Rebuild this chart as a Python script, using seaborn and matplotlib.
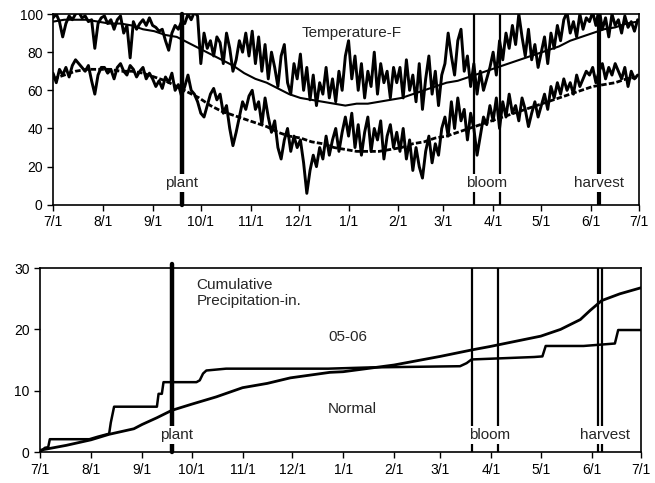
import matplotlib
matplotlib.use("Agg")
import matplotlib.dates as mdates
import matplotlib.pyplot as plt
import pandas as pd
import seaborn as sns

season_start = pd.Timestamp("2005-07-01")
season_end = pd.Timestamp("2006-07-01")

# daily temps 05-06, read every 2 days off the chart (day 0 = 7/1)
tmax = [
    98, 100, 96, 88, 95, 99, 97, 100, 101, 98, 99, 96, 97, 82, 95, 98,  # jul
    99, 95, 97, 92, 97, 99, 90, 94, 77, 96, 92, 95, 97, 94, 98,  # aug
    94, 93, 91, 92, 86, 81, 90, 94, 92, 96, 95, 100, 97, 101, 99,  # sep
    74, 90, 82, 86, 78, 88, 85, 74, 90, 82, 70, 76, 86, 80, 90, 78,  # oct
    91, 74, 88, 70, 84, 66, 80, 72, 62, 78, 84, 64, 58, 74, 66,  # nov
    79, 60, 72, 55, 68, 52, 64, 58, 72, 56, 66, 54, 70, 60, 78,  # dec
    86, 66, 78, 60, 74, 56, 70, 62, 80, 58, 74, 64, 70, 56, 72, 64,  # jan
    72, 56, 76, 60, 68, 54, 74, 50, 66, 78, 58, 70, 52, 68,  # feb
    74, 90, 78, 68, 86, 92, 70, 78, 62, 74, 58, 70, 60, 66, 72,  # mar
    80, 68, 86, 76, 90, 82, 94, 84, 100, 88, 78, 92, 76, 84, 72,  # apr
    80, 88, 74, 90, 82, 94, 86, 97, 101, 90, 96, 88, 100, 92, 98,  # may
    96, 101, 94, 103, 92, 98, 88, 100, 94, 97, 90, 99, 93, 96, 91, 97,  # jun
]
tmin = [
    69, 64, 71, 68, 72, 67, 73, 76, 74, 72, 70, 73, 65, 58, 68, 72,
    72, 69, 71, 66, 72, 74, 70, 68, 73, 71, 67, 70, 72, 66, 69,
    66, 62, 65, 61, 67, 64, 69, 60, 63, 57, 62, 68, 60, 58, 54,
    48, 46, 52, 58, 61, 55, 58, 48, 52, 40, 31, 38, 46, 54, 50, 57,
    60, 50, 54, 42, 56, 46, 38, 44, 30, 24, 34, 40, 28, 36, 30,
    34, 22, 6, 18, 26, 20, 30, 24, 36, 26, 34, 40, 28, 38, 46,
    36, 48, 30, 42, 26, 38, 46, 28, 40, 34, 44, 24, 36, 42, 30, 38,
    28, 40, 24, 34, 18, 30, 20, 14, 28, 36, 22, 32, 26, 40,
    46, 36, 54, 40, 56, 44, 50, 34, 48, 40, 26, 36, 46, 42, 52,
    44, 56, 40, 54, 46, 58, 48, 52, 44, 56, 50, 41, 48, 54, 46,
    52, 58, 50, 62, 56, 64, 58, 66, 60, 64, 58, 68, 62, 66, 70,
    68, 72, 64, 70, 74, 66, 72, 68, 74, 70, 66, 72, 62, 70, 66, 68,
]

# normals, weekly
norm_max = [
    96, 97, 97, 97, 96, 95, 95, 94, 92, 91, 89, 88, 85, 82, 79, 76, 73, 69,
    66, 64, 61, 58, 56, 55, 54, 53, 52, 53, 53, 54, 55, 56, 58, 60, 62, 64,
    65, 67, 69, 71, 73, 75, 77, 79, 81, 83, 86, 88, 90, 92, 93, 95, 96,
]
norm_min = [
    66, 68, 70, 71, 71, 71, 70, 70, 69, 67, 65, 62, 59, 56, 52, 49, 47, 45,
    43, 41, 38, 36, 35, 33, 32, 30, 29, 28, 28, 28, 29, 30, 32, 33, 35, 36,
    38, 40, 42, 44, 46, 48, 50, 52, 54, 56, 58, 60, 62, 63, 64, 66, 67,
]

# cumulative precipitation (in.)
precip_days = [0, 3, 5, 6, 30, 35, 42, 43, 45, 71, 72, 74, 75, 95, 97, 99,
               101, 113, 175, 200, 255, 259, 262, 300, 305, 307, 330, 349,
               351, 365]
precip_0506 = [0, 0.7, 0.8, 2.1, 2.1, 2.5, 3.0, 4.8, 7.4, 7.4, 9.5, 9.5,
               11.4, 11.4, 11.7, 12.8, 13.3, 13.6, 13.6, 13.8, 14.0, 14.5,
               15.1, 15.5, 15.6, 17.3, 17.3, 17.7, 19.9, 19.9]
normal_days = [0, 16, 31, 42, 57, 62, 71, 80, 92, 107, 123, 138, 152, 176,
               184, 215, 243, 263, 273, 304, 316, 328, 334, 341, 352, 365]
precip_normal = [0.3, 1.1, 2.0, 2.9, 3.8, 4.5, 5.6, 6.8, 7.8, 9.0, 10.5,
                 11.2, 12.1, 13.0, 13.1, 14.2, 15.6, 16.7, 17.2, 18.9, 20.0,
                 21.6, 23.1, 24.7, 25.8, 26.8]

plant = pd.Timestamp("2005-09-19")
bloom = [pd.Timestamp("2006-03-20"), pd.Timestamp("2006-04-05")]
harvest = pd.Timestamp("2006-06-06")


def to_dates(days):
    return season_start + pd.to_timedelta(list(days), unit="D")


sns.set_style("ticks")
plt.rcParams["font.family"] = ["Liberation Sans", "DejaVu Sans"]

fig = plt.figure(figsize=(6.55, 4.83), dpi=100)
ax1 = fig.add_axes([0.081, 0.576, 0.895, 0.395])
ax2 = fig.add_axes([0.061, 0.064, 0.918, 0.381])

# Temperature panel
week = to_dates(range(0, 7 * len(norm_max), 7))
sns.lineplot(x=week, y=norm_max, ax=ax1, color="black", lw=1.5)
sns.lineplot(x=week, y=norm_min, ax=ax1, color="black", lw=2.0,
             linestyle=(0, (2, 0.8)))
sns.lineplot(x=to_dates(range(0, 2 * len(tmax), 2)), y=tmax, ax=ax1,
             color="black", lw=2.1)
sns.lineplot(x=to_dates(range(0, 2 * len(tmin), 2)), y=tmin, ax=ax1,
             color="black", lw=2.1)
ax1.set_ylim(0, 100)
ax1.set_yticks([0, 20, 40, 60, 80, 100])
ax1.text(pd.Timestamp("2006-01-03"), 90, "Temperature-F", ha="center",
         va="center", fontsize=11)

# Precipitation panel
sns.lineplot(x=to_dates(precip_days), y=precip_0506, ax=ax2, color="black", lw=1.8)
sns.lineplot(x=to_dates(normal_days), y=precip_normal, ax=ax2, color="black", lw=2.0)
ax2.set_ylim(0, 30)
ax2.set_yticks([0, 10, 20, 30])
ax2.text(pd.Timestamp("2005-10-04"), 26, "Cumulative\nPrecipitation-in.",
         ha="left", va="center", fontsize=11, linespacing=1.2)
ax2.text(pd.Timestamp("2005-12-23"), 18.8, "05-06", ha="left", va="center", fontsize=11)
ax2.text(pd.Timestamp("2005-12-23"), 7.0, "Normal", ha="left", va="center", fontsize=11)

box = dict(facecolor="white", edgecolor="none", pad=1.5)
for ax, ylab in [(ax1, 11.5), (ax2, 2.8)]:
    ax.axvline(plant, color="black", lw=3.2, zorder=3,
               ymax=1.02 if ax is ax2 else 1, clip_on=False)
    for b in bloom:
        ax.axvline(b, color="black", lw=1.6, zorder=3)
    if ax is ax1:
        ax.axvline(harvest, color="black", lw=3, zorder=3)
    else:
        ax.axvline(harvest - pd.Timedelta(days=1), color="black", lw=1.6, zorder=3)
        ax.axvline(harvest + pd.Timedelta(days=1), color="black", lw=1.6, zorder=3)
    off = pd.Timedelta(days=3) if ax is ax2 else pd.Timedelta(days=0)
    ax.text(plant + off, ylab, "plant", ha="center", va="center", fontsize=11,
            bbox=box, zorder=4)
    ax.text(pd.Timestamp("2006-03-28") + off, ylab, "bloom", ha="center",
            va="center", fontsize=11, bbox=box, zorder=4)
    ax.text(harvest + off, ylab, "harvest", ha="center", va="center",
            fontsize=11, bbox=box, zorder=4)

    ax.set_xlim(season_start, season_end)
    ax.xaxis.set_major_locator(mdates.MonthLocator(bymonthday=1))
    ax.xaxis.set_major_formatter(mdates.DateFormatter("%-m/%-d"))
    ax.tick_params(direction="out", length=4, width=1, labelsize=10,
                   color="black", labelcolor="black")
    ax.set_xlabel("")
    ax.set_ylabel("")
    for s in ax.spines.values():
        s.set_visible(True)
        s.set_color("black")
        s.set_linewidth(1.2)

fig.savefig("out.png", dpi=100)
